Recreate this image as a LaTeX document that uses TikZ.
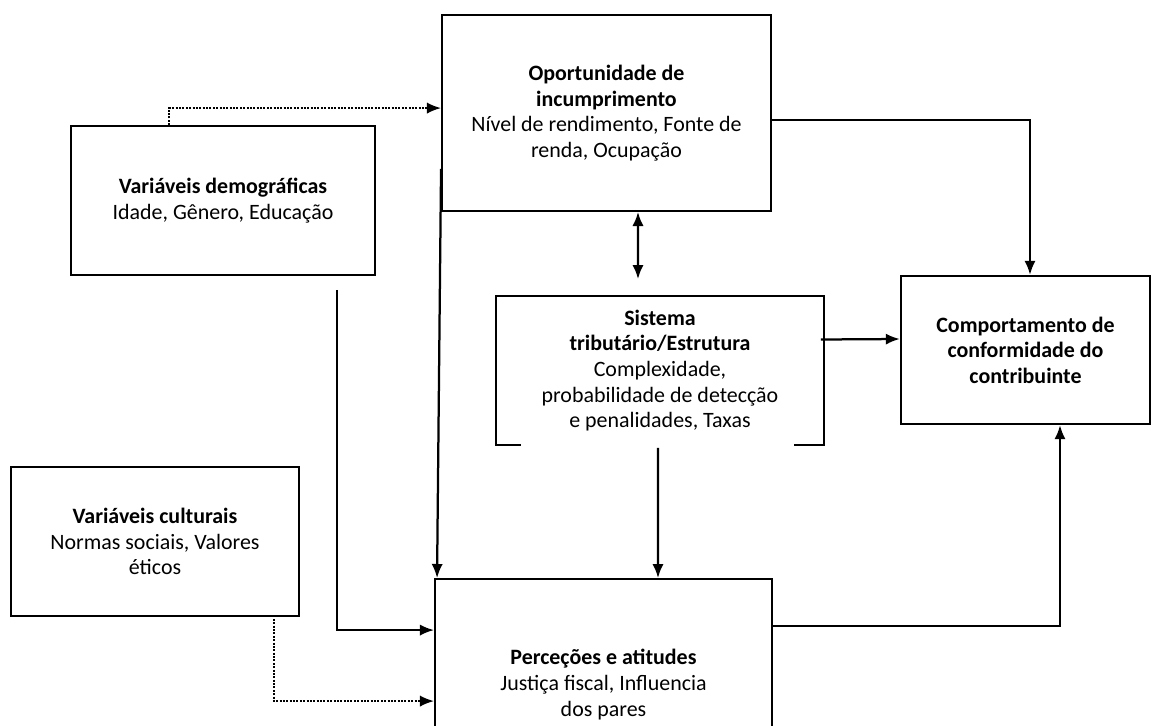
\documentclass[tikz,border=0pt]{standalone}
\usepackage{fontspec}
\setmainfont{Carlito}
\usepackage{tikz}
\usetikzlibrary{arrows.meta,calc}

\begin{document}
\begin{tikzpicture}[x=0.025cm,y=-0.025cm]
				\tikzstyle{every node}=[font=\fontsize{15.6}{18.2}\selectfont, align=center];
				\tikzstyle{box}=[draw, line width=1.3pt, inner sep=0pt];
				\tikzstyle{link}=[line width=1.6pt, -{Latex[length=10pt,width=8pt]}];
				\tikzstyle{dots}=[line width=1.4pt, densely dotted, -{Latex[length=10pt,width=8pt]}];

				\clip (0,0) rectangle (1152,725);

				%Boxes
				\node[box, minimum width=8.225cm, minimum height=4.9cm] (opp) at (606.5,113) {\textbf{Oportunidade de}\\ \textbf{incumprimento}\\ Nível de rendimento, Fonte de\\ renda, Ocupação};
				\node[box, minimum width=7.6cm, minimum height=3.725cm] (dem) at (223,200.5) {\textbf{Variáveis demográficas}\\ Idade, Gênero, Educação};
				\node[box, minimum width=8.2cm, minimum height=3.725cm] (sis) at (660,370.5) {\textbf{Sistema}\\ \textbf{tributário/Estrutura}\\ Complexidade,\\ probabilidade de detecção\\ e penalidades, Taxas};
				\node[box, line width=1.6pt, minimum width=6.225cm, minimum height=3.7cm] (comp) at (1025.5,350) {\textbf{Comportamento de}\\ \textbf{conformidade do}\\ \textbf{contribuinte}};
				\node[box, minimum width=7.2cm, minimum height=3.725cm] (cult) at (155,541.5) {\textbf{Variáveis culturais}\\ Normas sociais, Valores\\ éticos};
				\node[box, minimum width=8.425cm, minimum height=5.275cm] (perc) at (603.5,684.5) {\textbf{Perceções e atitudes}\\ Justiça fiscal, Influencia\\ dos pares};

				%gap in the bottom edge
				\draw[white, line width=2.4pt] ($(sis.south west)+(26,0)$) -- ($(sis.south east)+(-31,0)$);

				%Lines
				\draw[dots] ($(dem.north west)+(99,0)$) |- ($(opp.north west)+(0,94)$);
				\draw[link] ($(opp.south west)+(0,-43)$) -- ($(perc.north west)+(3,0)$);
				\draw[link] ($(dem.south east)+(-39,14)$) |- ($(perc.north west)+(0,52)$);
				\draw[dots] ($(cult.south east)+(-26,2)$) |- ($(perc.north west)+(0,123)$);
				\draw[link, {Latex[length=10pt,width=8pt]}-{Latex[length=10pt,width=8pt]}] ($(opp.south)+(31.5,0)$) -- ($(sis.north)+(-22,-16)$);
				\draw[link] ($(opp.east)+(0,7)$) -| ($(comp.north)+(4.5,0)$);
				\draw[link] ($(sis.east)+(-4,-31)$) -- ($(comp.west)+(0,-11)$);
				\draw[link] ($(sis.south)+(-2,2)$) -- ($(perc.north)+(54.5,0)$);
				\draw[link] ($(perc.north east)+(0,48)$) -| ($(comp.south)+(34.5,0)$);

			\end{tikzpicture}
\end{document}
